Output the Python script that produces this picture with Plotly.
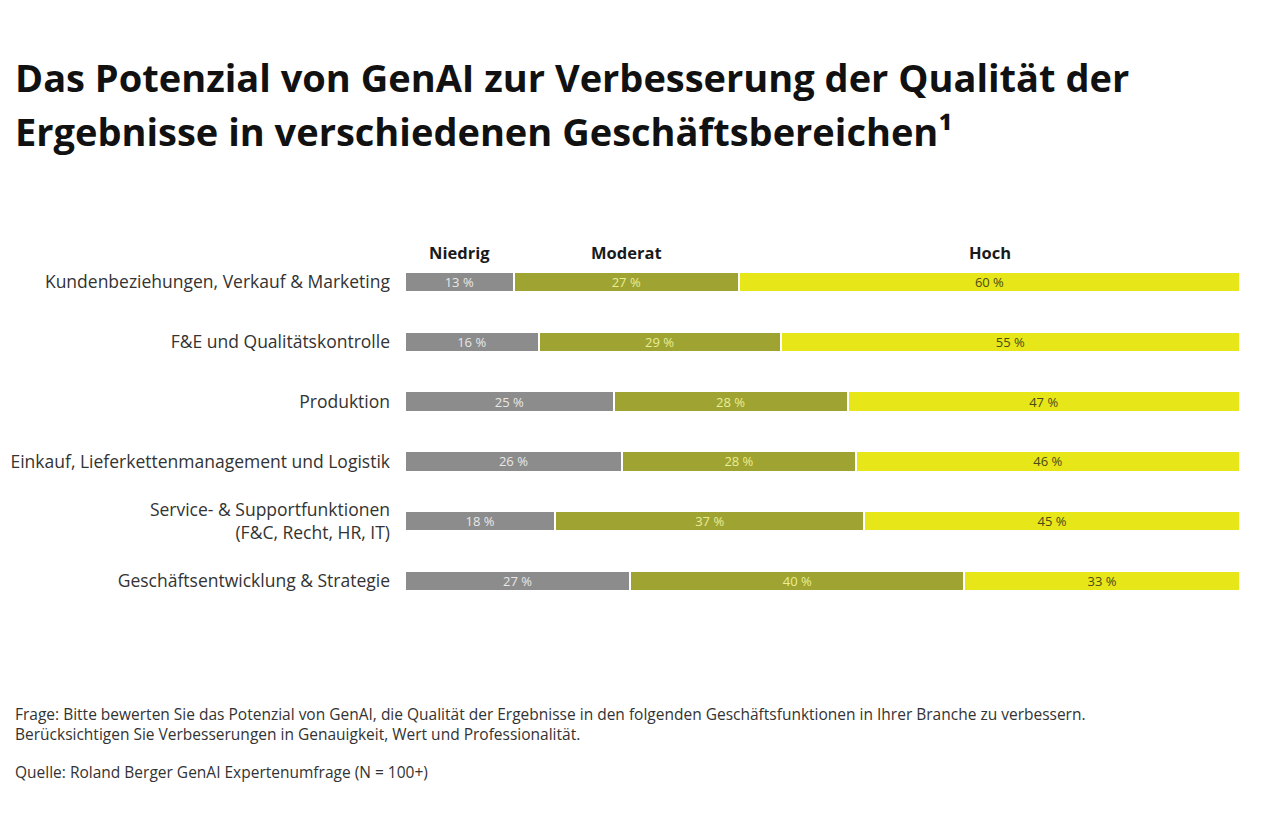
import plotly.graph_objects as go

categories = [
    "Kundenbeziehungen, Verkauf & Marketing",
    "F&E und Qualitätskontrolle",
    "Produktion",
    "Einkauf, Lieferkettenmanagement und Logistik",
    "Service- & Supportfunktionen<br>(F&C, Recht, HR, IT)",
    "Geschäftsentwicklung & Strategie",
]
series_names = ["Niedrig", "Moderat", "Hoch"]
niedrig = [13, 16, 25, 26, 18, 27]
moderat = [27, 29, 28, 28, 37, 40]
hoch = [60, 55, 47, 46, 45, 33]

colors = ["#8c8c8c", "#9ea332", "#e6e619"]
text_colors = ["#e8e8e8", "#eaee95", "#4a4a18"]

FONT = "Open Sans"
W, H = 1280, 837
OFF = 8  # page body margin
# plot area in page pixels: x 405..1240, y 252..611
ML = 405 - OFF
MR = W + OFF - 1240
MT = 252 - OFF
MB = H + OFF - 611
PW = W - ML - MR
PH = H - MT - MB

fig = go.Figure()
for name, vals, c, tc in zip(series_names, [niedrig, moderat, hoch], colors, text_colors):
    fig.add_trace(go.Bar(
        y=categories, x=vals, name=name, orientation="h",
        marker=dict(color=c, line=dict(color="white", width=2)),
        width=0.34,
        text=[f"{v} %" for v in vals], textposition="inside",
        insidetextanchor="middle", constraintext="none",
        textfont=dict(family=FONT, size=13, color=tc),
        hoverinfo="skip",
    ))

annotations = []
# column headers centred above the first row's segments
first = [niedrig[0], moderat[0], hoch[0]]
cum = 0
for name, v in zip(series_names, first):
    annotations.append(dict(
        x=cum + v / 2, y=1.0, xref="x", yref="paper", yanchor="middle",
        text=f"<b>{name}</b>", showarrow=False,
        font=dict(family=FONT, size=16.5, color="#1a1a1a"),
    ))
    cum += v


def px_x(p):
    return (p - OFF - ML) / PW


def px_y(p):
    return (H + OFF - MB - p) / PH


title1 = "Das Potenzial von GenAI zur Verbesserung der Qualität der"
title2 = "Ergebnisse in verschiedenen Geschäftsbereichen¹"
for txt, yy in [(title1, 77), (title2, 131)]:
    annotations.append(dict(x=px_x(13), y=px_y(yy), xref="paper", yref="paper",
                            xanchor="left", yanchor="middle", text=f"<b>{txt}</b>",
                            showarrow=False, font=dict(family=FONT, size=38, color="#111")))

foot1 = "Frage: Bitte bewerten Sie das Potenzial von GenAI, die Qualität der Ergebnisse in den folgenden Geschäftsfunktionen in Ihrer Branche zu verbessern."
foot2 = "Berücksichtigen Sie Verbesserungen in Genauigkeit, Wert und Professionalität."
foot3 = "Quelle: Roland Berger GenAI Expertenumfrage (N = 100+)"
for txt, yy in [(foot1, 714), (foot2, 734), (foot3, 772)]:
    annotations.append(dict(x=px_x(13), y=px_y(yy), xref="paper", yref="paper",
                            xanchor="left", yanchor="middle", text=txt,
                            showarrow=False, font=dict(family=FONT, size=15.5, color="#333")))

fig.update_layout(
    barmode="stack",
    width=W, height=H,
    margin=dict(l=ML, r=MR, t=MT, b=MB, autoexpand=False),
    plot_bgcolor="white", paper_bgcolor="white",
    showlegend=False,
    annotations=annotations,
    xaxis=dict(range=[0, 100], visible=False, fixedrange=True),
    yaxis=dict(autorange="reversed", showgrid=False, zeroline=False, showline=False,
               ticks="", ticklabelstandoff=14, automargin=False,
               tickfont=dict(family=FONT, size=17.5, color="#333")),
)

fig.write_html("out.html")
